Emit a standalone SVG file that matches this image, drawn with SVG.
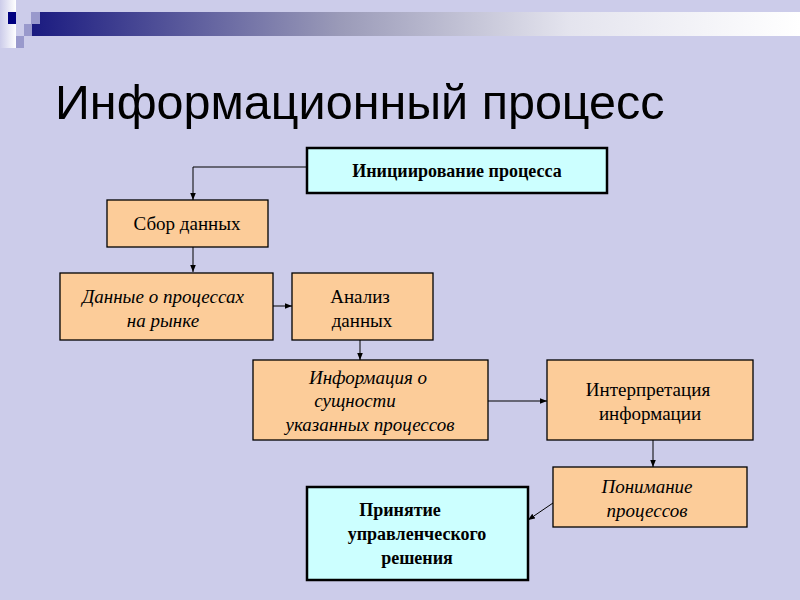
<svg xmlns="http://www.w3.org/2000/svg" width="800" height="600" viewBox="0 0 800 600">
<style>
.o{fill:#fccc99;stroke:#000;stroke-width:1.3}
.c{fill:#ccffff;stroke:#000;stroke-width:2.5}
text{font-family:"Liberation Serif",serif;font-size:19px;fill:#000;text-anchor:middle}
.i{font-style:italic}
.b{font-weight:bold;font-size:18px}
.l{stroke:#000;stroke-width:1;fill:none;marker-end:url(#a)}
</style>
<defs>
<marker id="a" viewBox="0 0 10 10" refX="10" refY="5" markerWidth="7" markerHeight="7" orient="auto"><path d="M0,1L10,5L0,9z" fill="#000"/></marker>
<linearGradient id="g" x1="0" x2="1"><stop offset="0" stop-color="#1a1a80"/><stop offset="0.4" stop-color="#9a9ab8"/><stop offset="0.7" stop-color="#e4e4ee"/><stop offset="1" stop-color="#fff"/></linearGradient>
<linearGradient id="w" x1="0" x2="1"><stop offset="0" stop-color="#ccccea"/><stop offset="1" stop-color="#fff"/></linearGradient>
</defs>
<rect width="800" height="600" fill="#ccccea"/>
<rect x="0" y="0" width="16" height="48" fill="url(#w)"/>
<rect x="31" y="12" width="769" height="24" fill="url(#g)"/>
<rect x="8" y="12" width="8" height="12" fill="#000080"/>
<rect x="31" y="12" width="9" height="12" fill="#9999cc"/>
<rect x="24" y="24" width="8" height="12" fill="#9999cc"/>
<rect x="16" y="36" width="8" height="12" fill="#9999cc"/>
<text x="55" y="119" style="font-family:'Liberation Sans',sans-serif;font-size:48.5px;text-anchor:start">Информационный процесс</text>
<g id="connectors">
<path class="l" d="M307,167H193V200"/>
<path class="l" d="M193,247V272"/>
<path class="l" d="M273,306H292"/>
<path class="l" d="M360,340V360"/>
<path class="l" d="M488,401H547"/>
<path class="l" d="M653,440V467"/>
<path class="l" d="M553,503L528,520"/>
</g>
<g id="n1"><rect class="c" x="307" y="148" width="300" height="45"/><text class="b" x="457" y="177">Инициирование процесса</text></g>
<g id="n2"><rect class="o" x="107" y="200" width="161" height="47"/><text x="187" y="230">Сбор данных</text></g>
<g id="n3"><rect class="o" x="60" y="273" width="213" height="67"/><text class="i" x="163" y="303">Данные о процессах</text><text class="i" x="163" y="327">на рынке</text></g>
<g id="n4"><rect class="o" x="292" y="273" width="141" height="67"/><text x="360" y="303">Анализ</text><text x="362" y="327">данных</text></g>
<g id="n5"><rect class="o" x="253" y="360" width="235" height="80"/><text class="i" x="368" y="384">Информация о</text><text class="i" x="355" y="407">сущности</text><text class="i" x="370" y="431">указанных процессов</text></g>
<g id="n6"><rect class="o" x="547" y="360" width="206" height="80"/><text x="648" y="396">Интерпретация</text><text x="650" y="420">информации</text></g>
<g id="n7"><rect class="o" x="553" y="467" width="194" height="60"/><text class="i" x="647" y="493">Понимание</text><text class="i" x="647" y="517">процессов</text></g>
<g id="n8"><rect class="c" x="307" y="487" width="221" height="93"/><text class="b" x="400" y="516">Принятие</text><text class="b" x="417" y="540">управленческого</text><text class="b" x="417" y="564">решения</text></g>
</svg>
